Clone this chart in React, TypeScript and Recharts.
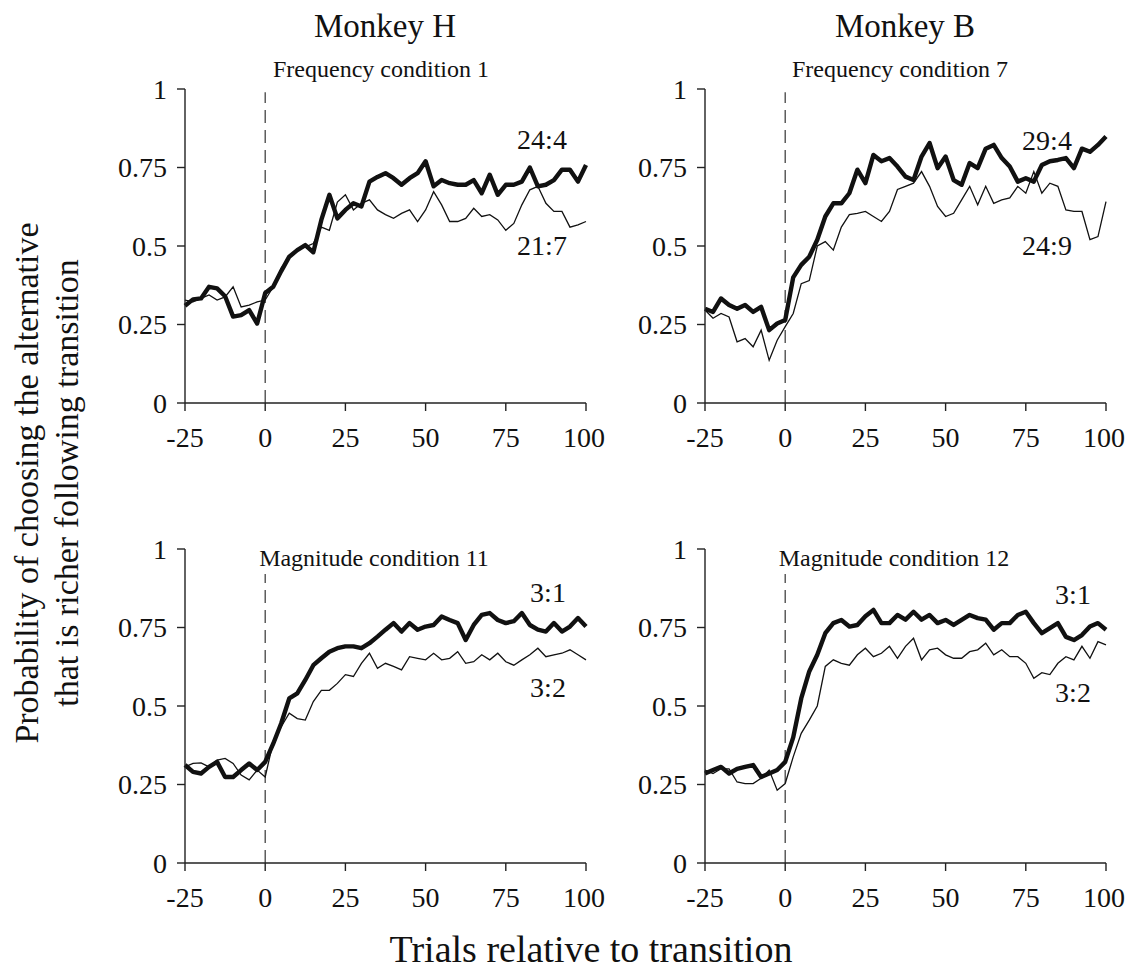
import React from 'react'
import { LineChart, Line, XAxis, YAxis, ReferenceLine } from 'recharts'

// trial positions relative to the transition (sampled every 2.5 trials)
const trials = [
  -25, -22.5, -20, -17.5, -15, -12.5, -10, -7.5, -5, -2.5,
  0, 2.5, 5, 7.5, 10, 12.5, 15, 17.5, 20, 22.5,
  25, 27.5, 30, 32.5, 35, 37.5, 40, 42.5, 45, 47.5,
  50, 52.5, 55, 57.5, 60, 62.5, 65, 67.5, 70, 72.5,
  75, 77.5, 80, 82.5, 85, 87.5, 90, 92.5, 95, 97.5, 100,
]

// Monkey H, frequency condition 1
const freqH_24_4 = [
  0.31, 0.33, 0.333, 0.37, 0.365, 0.34, 0.275, 0.28, 0.296, 0.253,
  0.35, 0.37, 0.42, 0.466, 0.487, 0.503, 0.48, 0.583, 0.663, 0.588,
  0.615, 0.636, 0.626, 0.705, 0.72, 0.732, 0.716, 0.695, 0.716, 0.732,
  0.77, 0.69, 0.71, 0.7, 0.695, 0.695, 0.71, 0.668, 0.727, 0.663,
  0.695, 0.695, 0.705, 0.75, 0.69, 0.695, 0.71, 0.743, 0.743, 0.705, 0.758,
]
const freqH_21_7 = [
  0.328, 0.322, 0.333, 0.344, 0.328, 0.338, 0.37, 0.306, 0.312, 0.322,
  0.328, 0.37, 0.43, 0.466, 0.49, 0.497, 0.508, 0.56, 0.55, 0.64,
  0.663, 0.615, 0.636, 0.647, 0.615, 0.6, 0.588, 0.604, 0.615, 0.578,
  0.615, 0.673, 0.631, 0.578, 0.578, 0.588, 0.62, 0.594, 0.6, 0.583,
  0.55, 0.572, 0.631, 0.679, 0.69, 0.636, 0.61, 0.61, 0.56, 0.567, 0.578,
]

// Monkey B, frequency condition 7
const freqB_29_4 = [
  0.3, 0.29, 0.333, 0.312, 0.3, 0.312, 0.29, 0.306, 0.232, 0.253,
  0.264, 0.4, 0.44, 0.466, 0.52, 0.594, 0.636, 0.636, 0.668, 0.743,
  0.7, 0.79, 0.77, 0.78, 0.753, 0.721, 0.71, 0.785, 0.828, 0.748,
  0.785, 0.71, 0.695, 0.764, 0.748, 0.81, 0.822, 0.78, 0.753, 0.705,
  0.716, 0.705, 0.758, 0.77, 0.774, 0.78, 0.748, 0.81, 0.8, 0.822, 0.849,
]
const freqB_24_9 = [
  0.296, 0.27, 0.285, 0.274, 0.195, 0.205, 0.179, 0.232, 0.136, 0.2,
  0.243, 0.285, 0.38, 0.39, 0.5, 0.514, 0.487, 0.56, 0.6, 0.604,
  0.61, 0.594, 0.578, 0.61, 0.68, 0.69, 0.7, 0.737, 0.69, 0.626,
  0.594, 0.604, 0.647, 0.69, 0.631, 0.69, 0.636, 0.647, 0.653, 0.69,
  0.668, 0.737, 0.668, 0.7, 0.69, 0.615, 0.61, 0.61, 0.52, 0.53, 0.641,
]

// Monkey H, magnitude condition 11
const magH_3_1 = [
  0.312, 0.29, 0.285, 0.306, 0.322, 0.274, 0.274, 0.296, 0.317, 0.296,
  0.322, 0.38, 0.445, 0.524, 0.54, 0.583, 0.63, 0.652, 0.673, 0.684,
  0.69, 0.69, 0.684, 0.7, 0.721, 0.743, 0.764, 0.737, 0.764, 0.743,
  0.753, 0.758, 0.785, 0.774, 0.764, 0.71, 0.758, 0.79, 0.796, 0.774,
  0.764, 0.77, 0.796, 0.758, 0.743, 0.737, 0.764, 0.737, 0.753, 0.78, 0.753,
]
const magH_3_2 = [
  0.306, 0.317, 0.319, 0.306, 0.328, 0.333, 0.317, 0.28, 0.265, 0.296,
  0.274, 0.386, 0.434, 0.477, 0.46, 0.455, 0.514, 0.55, 0.55, 0.572,
  0.6, 0.594, 0.636, 0.668, 0.62, 0.636, 0.626, 0.615, 0.657, 0.652,
  0.647, 0.668, 0.647, 0.652, 0.673, 0.636, 0.641, 0.663, 0.647, 0.668,
  0.641, 0.63, 0.647, 0.663, 0.684, 0.657, 0.663, 0.668, 0.679, 0.663, 0.647,
]

// Monkey B, magnitude condition 12
const magB_3_1 = [
  0.285, 0.296, 0.306, 0.285, 0.3, 0.306, 0.312, 0.274, 0.285, 0.296,
  0.322, 0.4, 0.524, 0.61, 0.663, 0.732, 0.764, 0.774, 0.753, 0.758,
  0.786, 0.806, 0.764, 0.764, 0.79, 0.775, 0.8, 0.775, 0.79, 0.764,
  0.774, 0.758, 0.774, 0.79, 0.78, 0.775, 0.743, 0.764, 0.764, 0.79,
  0.8, 0.764, 0.732, 0.748, 0.764, 0.72, 0.71, 0.726, 0.753, 0.764, 0.743,
]
const magB_3_2 = [
  0.296, 0.285, 0.3, 0.3, 0.258, 0.253, 0.253, 0.27, 0.296, 0.232,
  0.253, 0.338, 0.413, 0.455, 0.5, 0.626, 0.647, 0.636, 0.63, 0.663,
  0.684, 0.657, 0.668, 0.69, 0.652, 0.69, 0.716, 0.647, 0.679, 0.684,
  0.663, 0.652, 0.652, 0.673, 0.679, 0.7, 0.663, 0.679, 0.657, 0.657,
  0.636, 0.588, 0.606, 0.6, 0.636, 0.657, 0.647, 0.69, 0.652, 0.705, 0.695,
]

const xTicks = [-25, 0, 25, 50, 75, 100]
const yTicks = [0, 0.25, 0.5, 0.75, 1]

const serif = 'Liberation Serif'
const ink = '#111'

const makeRows = (rich: number[], lean: number[]) =>
  trials.map((t, i) => ({ t, rich: rich[i], lean: lean[i] }))

interface PanelProps {
  rich: number[]
  lean: number[]
  left: number
  top: number
  dashTop: number
}

const Panel = ({ rich, lean, left, top, dashTop }: PanelProps) => {
  const data = makeRows(rich, lean)
  return (
    <div style={{ position: 'absolute', left, top }}>
      <LineChart width={500} height={400} data={data}
        margin={{ top: 29, right: 19, left: 0, bottom: 17 }}>
        <XAxis dataKey="t" type="number" domain={[-25, 100]} ticks={xTicks}
          height={40} tickSize={8} tickMargin={16}
          axisLine={{ stroke: '#222', strokeWidth: 1.4 }}
          tickLine={{ stroke: '#222', strokeWidth: 1.4 }}
          tick={{ fill: ink, fontSize: 28, fontFamily: serif }} />
        <YAxis type="number" domain={[0, 1]} ticks={yTicks}
          width={80} tickSize={8} tickMargin={10}
          axisLine={{ stroke: '#222', strokeWidth: 1.4 }}
          tickLine={{ stroke: '#222', strokeWidth: 1.4 }}
          tick={{ fill: ink, fontSize: 28, fontFamily: serif }} />
        <ReferenceLine segment={[{ x: 0, y: 0 }, { x: 0, y: dashTop }]}
          stroke="#444" strokeWidth={1.3} strokeDasharray="13 7" />
        <Line type="linear" dataKey="lean" stroke={ink} strokeWidth={1.3}
          dot={false} isAnimationActive={false} />
        <Line type="linear" dataKey="rich" stroke={ink} strokeWidth={4.4}
          strokeLinejoin="round" dot={false} isAnimationActive={false} />
      </LineChart>
    </div>
  )
}

const txt = { fontFamily: serif, fill: ink } as const

const App = () => {
  return (
    <div style={{ position: 'absolute', left: 0, top: 0, width: 1141, height: 976, background: '#fff' }}>
      <Panel rich={freqH_24_4} lean={freqH_21_7} left={105} top={60} dashTop={0.99} />
      <Panel rich={freqB_29_4} lean={freqB_24_9} left={625} top={60} dashTop={0.99} />
      <Panel rich={magH_3_1} lean={magH_3_2} left={105} top={520} dashTop={0.92} />
      <Panel rich={magB_3_1} lean={magB_3_2} left={625} top={520} dashTop={0.92} />
      <svg width={1141} height={976} style={{ position: 'absolute', left: 0, top: 0, pointerEvents: 'none' }}>
        <text x={385} y={37} textAnchor="middle" fontSize={33} {...txt}>Monkey H</text>
        <text x={905} y={37} textAnchor="middle" fontSize={33} {...txt}>Monkey B</text>
        <text x={381} y={77} textAnchor="middle" fontSize={24} {...txt}>Frequency condition 1</text>
        <text x={900} y={77} textAnchor="middle" fontSize={24} {...txt}>Frequency condition 7</text>
        <text x={374} y={566} textAnchor="middle" fontSize={24} {...txt}>Magnitude condition 11</text>
        <text x={894} y={566} textAnchor="middle" fontSize={24} {...txt}>Magnitude condition 12</text>

        <text x={542} y={149} textAnchor="middle" fontSize={28} {...txt}>24:4</text>
        <text x={542} y={255} textAnchor="middle" fontSize={28} {...txt}>21:7</text>
        <text x={1047} y={150} textAnchor="middle" fontSize={28} {...txt}>29:4</text>
        <text x={1047} y={255} textAnchor="middle" fontSize={28} {...txt}>24:9</text>
        <text x={548} y={602} textAnchor="middle" fontSize={28} {...txt}>3:1</text>
        <text x={548} y={697} textAnchor="middle" fontSize={28} {...txt}>3:2</text>
        <text x={1073} y={604} textAnchor="middle" fontSize={28} {...txt}>3:1</text>
        <text x={1073} y={702} textAnchor="middle" fontSize={28} {...txt}>3:2</text>

        <text x={591} y={962} textAnchor="middle" fontSize={38} {...txt}>Trials relative to transition</text>
        <text transform="translate(38,483) rotate(-90)" textAnchor="middle" fontSize={34} {...txt}>
          Probability of choosing the alternative
        </text>
        <text transform="translate(78,483) rotate(-90)" textAnchor="middle" fontSize={34} {...txt}>
          that is richer following transition
        </text>
      </svg>
    </div>
  )
}

export default App
